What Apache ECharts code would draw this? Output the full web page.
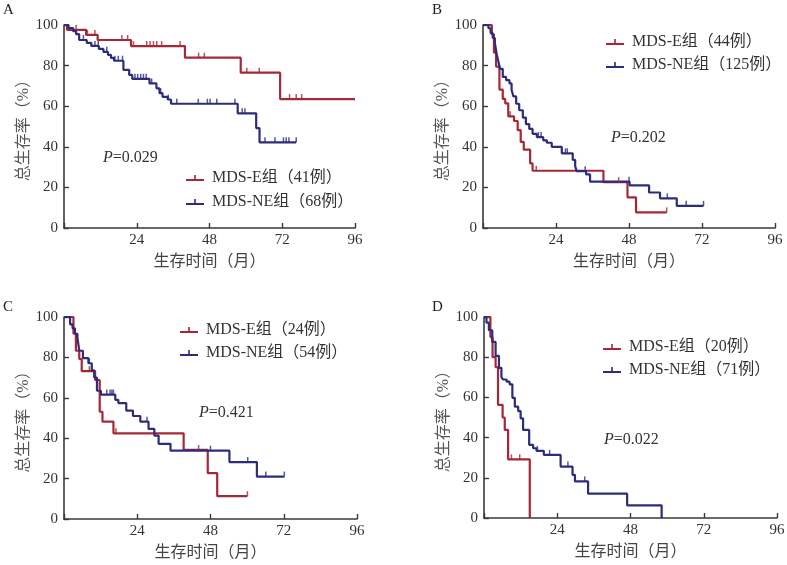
<!DOCTYPE html>
<html>
<head>
<meta charset="utf-8">
<script src="https://cdn.jsdelivr.net/npm/echarts@6/dist/echarts.min.js"></script>
<style>html,body{margin:0;padding:0;background:#fff}#c{width:787px;height:565px}</style>
</head>
<body>
<div id="c"></div>
<script>
// ---------- data ----------
const panelLabels = ['A', 'B', 'C', 'D'];
const pValues = ['0.029', '0.202', '0.421', '0.022'];
const xTicks = [0, 24, 48, 72, 96];
const yTicks = [0, 20, 40, 60, 80, 100];
const xAxisName = '生存时间（月）';
const yAxisName = '总生存率（%）';
const eNames = ['MDS-E组（41例）', 'MDS-E组（44例）', 'MDS-E组（24例）', 'MDS-E组（20例）'];
const neNames = ['MDS-NE组（68例）', 'MDS-NE组（125例）', 'MDS-NE组（54例）', 'MDS-NE组（71例）'];

// Kaplan-Meier steps: [month, survival %]
const aE = [[0,100],[1,97.6],[7.3,95.1],[11.1,92.6],[22.1,89.6],[39.9,83.9],[58.3,76.5],[71.3,63.5],[96,63.5]];
const aECens = [[4,97.6],[7.7,95.1],[10.2,95.1],[19.1,92.6],[21,92.6],[22.9,89.6],[27.3,89.6],[28.4,89.6],[29.5,89.6],[30.6,89.6],[32.2,89.6],[38.3,89.6],[44.4,83.9],[46.3,83.9],[60.3,76.5],[64.4,76.5],[74.4,63.5],[76.6,63.5],[78.4,63.5]];
const aNE = [[0,100],[1.5,98.5],[3,97],[4,95.5],[5,92.6],[7.5,91.2],[9,89.7],[11.5,88.2],[13,86.8],[14.5,85.3],[15.5,83.8],[16.5,82.4],[19.6,77.9],[21.5,75.4],[22.5,73.5],[28.2,71.2],[30.5,68.8],[31.5,66.4],[32.5,64.6],[34.2,63.3],[35.3,61.2],[57.3,56.5],[63.4,49.2],[64.5,42.2],[76.6,42.2]];
const aNECens = [[6.4,92.6],[10.2,89.7],[11.3,89.7],[14.1,86.8],[16.8,82.4],[17.9,82.4],[19.3,82.4],[23.4,73.5],[24.3,73.5],[25.3,73.5],[26.2,73.5],[27.1,73.5],[28.9,71.2],[31.9,66.4],[34.4,63.3],[37.2,61.2],[44.3,61.2],[47.3,61.2],[48.2,61.2],[50.4,61.2],[56.4,61.2],[58.8,56.5],[59.7,56.5],[66.3,42.2],[69.6,42.2],[72.4,42.2],[73.3,42.2],[74.2,42.2],[76.6,42.2]];

const bE = [[0,100],[2.9,95.5],[3.6,86.4],[4.3,79.5],[5.4,68.2],[6.5,63.6],[7.3,61.4],[8.3,55],[10.2,52.7],[11.4,48.2],[12.4,42.4],[13.4,38.6],[15.5,31.8],[16.3,28.2],[39.6,22.6],[47.5,15.1],[50.3,7.7],[60.4,7.7]];
const bECens = [[8.9,55],[17.5,28.2],[44.6,22.6],[60.4,7.7]];
const bNE = [[0,100],[1.8,98.4],[2.5,96],[3.2,93.6],[3.9,91.2],[4.5,85.6],[5,82.4],[5.6,78.4],[6.5,74.4],[7.6,72.8],[8.7,71.2],[9.4,68],[10,64.8],[10.9,61.2],[11.9,58],[13.1,54.4],[14.1,51.2],[15.2,48.8],[16.3,46.4],[17.7,44.8],[19.8,43.2],[21,42],[22.6,40],[25.9,36.8],[29.5,33.6],[30.3,30.4],[30.8,28],[33.9,26.4],[35.2,22.8],[48.2,21],[54.6,17.5],[58.2,14.6],[63.7,10.9],[72.5,10.9]];
const bNECens = [[18.2,44.8],[19.1,44.8],[27.1,36.8],[27.7,36.8],[33.6,28],[48,22.8],[60.6,14.6],[66.8,10.9],[72.5,10.9]];

const cE = [[0,100],[3.1,91.7],[3.9,83.3],[5,79.2],[5.8,73.2],[10.2,68.8],[11.7,53.1],[12.6,48.2],[16.2,42.4],[39.2,34.2],[47.1,22.7],[50.2,11.3],[60.1,11.3]];
const cECens = [[8.3,73.2],[17,42.4],[44.1,34.2],[60.1,11.3]];
const cNE = [[0,100],[2,96.3],[2.8,94.4],[3.6,91.7],[4.4,89.8],[5,83.3],[6.2,79.6],[8,77.1],[9.1,73.6],[9.9,70],[10.8,63.5],[12.1,61.6],[16.8,59],[17.8,57.4],[20.4,53.7],[22.6,51],[25,48.2],[27.7,44.6],[29.6,41.3],[31,37.2],[34.9,33.8],[54.2,28.2],[63.2,21],[72.2,21]];
const cNECens = [[8.3,77.1],[14,61.6],[15.1,61.6],[15.7,61.6],[16.2,61.6],[27.2,48.2],[48,33.8],[60.2,28.2],[66.1,21],[72.2,21]];

const dE = [[0,100],[2.1,90],[2.8,80],[3.8,75],[4.6,56.3],[6.1,50],[6.8,43.8],[7.9,29.2],[15,0]];
const dECens = [[9,29.2],[11.7,29.2]];
const dNE = [[0,100],[0.8,97.2],[1.6,93.4],[2.7,87.6],[3.8,80.7],[4.9,74.7],[5.7,70.2],[6.2,68.9],[7.4,67.8],[8.4,66.5],[9.3,59.8],[10.1,55.4],[11.2,53.2],[12,49.6],[12.8,43.8],[14.8,36.4],[16.1,34.7],[17.2,33.4],[19.6,31.4],[25.1,25.6],[29,21.5],[29.8,18.2],[34.1,12.1],[46.9,6.3],[58.2,0]];
const dNECens = [[17.5,33.4],[21.5,31.4],[27.5,25.6],[33,18.2]];

const eCurves = [aE, bE, cE, dE];
const eCens = [aECens, bECens, cECens, dECens];
const neCurves = [aNE, bNE, cNE, dNE];
const neCens = [aNECens, bNECens, cNECens, dNECens];

// ---------- layout / style ----------
const RED = '#A52836', BLUE = '#2D2C7C';
const SERIF = "'Liberation Serif','Noto Sans CJK SC',serif";
const grids = [
  {left: 64, right: 432, top: 25, bottom: 337},
  {left: 483, right: 12, top: 25, bottom: 337},
  {left: 64, right: 430, top: 317, bottom: 46},
  {left: 484, right: 10, top: 317, bottom: 47}
];
const letterPos = [[3, 3], [432, 3], [3, 300], [432, 300]];
const pPos = [[103, 150], [611, 130], [199, 405], [604, 432]];
const legendPos = [[186, 170, 8], [606, 34, 7], [180, 322, 7], [603, 339, 7]];
const legendIcon = 'path://M0,4L18,4L18,6L0,6Z M8.2,0L9.8,0L9.8,5L8.2,5Z';

const option = {
  backgroundColor: '#fff',
  animation: false,
  grid: grids.map(g => Object.assign({outerBoundsMode: 'none', containLabel: false}, g)),
  title: [],
  legend: [],
  xAxis: [],
  yAxis: [],
  series: []
};

for (let i = 0; i < 4; i++) {
  option.title.push({
    text: panelLabels[i], left: letterPos[i][0], top: letterPos[i][1], padding: 0,
    textStyle: {fontFamily: SERIF, fontSize: 15, fontWeight: 'normal', color: '#222'}
  });
  option.title.push({
    text: '{i|P}=' + pValues[i], left: pPos[i][0], top: pPos[i][1], padding: 0,
    textStyle: {fontFamily: SERIF, fontSize: 16, fontWeight: 'normal', color: '#333',
      rich: {i: {fontFamily: SERIF, fontSize: 16, fontStyle: 'italic', color: '#333'}}}
  });
  option.legend.push({
    orient: 'vertical', left: legendPos[i][0], top: legendPos[i][1], itemGap: legendPos[i][2],
    padding: 0, itemWidth: 18, itemHeight: 6,
    data: [{name: eNames[i], icon: legendIcon}, {name: neNames[i], icon: legendIcon}],
    textStyle: {fontFamily: SERIF, fontSize: 16, color: '#333', padding: [0, 0, 0, 3]}
  });
  option.xAxis.push({
    type: 'value', gridIndex: i, min: xTicks[0], max: xTicks[xTicks.length - 1], interval: 24,
    name: xAxisName, nameLocation: 'middle', nameGap: 26,
    nameTextStyle: {fontFamily: SERIF, fontSize: 16, color: '#444'},
    axisLine: {show: true, onZero: false, lineStyle: {color: '#3a3a3a', width: 1.6}},
    axisTick: {show: true, inside: true, length: 5, lineStyle: {color: '#3a3a3a', width: 1.4}},
    axisLabel: {fontFamily: SERIF, fontSize: 15, color: '#333', margin: 5,
      formatter: v => (v === 0 ? '' : String(v))},
    splitLine: {show: false}
  });
  option.yAxis.push({
    type: 'value', gridIndex: i, min: yTicks[0], max: yTicks[yTicks.length - 1], interval: 20,
    name: yAxisName, nameLocation: 'middle', nameGap: 30, nameRotate: 90,
    nameTextStyle: {fontFamily: SERIF, fontSize: 16, color: '#555'},
    axisLine: {show: true, onZero: false, lineStyle: {color: '#3a3a3a', width: 1.6}},
    axisTick: {show: true, inside: true, length: 5, lineStyle: {color: '#3a3a3a', width: 1.4}},
    axisLabel: {fontFamily: SERIF, fontSize: 15, color: '#333', margin: 6},
    splitLine: {show: false}
  });
  [[eNames[i], eCurves[i], eCens[i], RED], [neNames[i], neCurves[i], neCens[i], BLUE]].forEach(([nm, curve, cens, col], k) => {
    option.series.push({
      type: 'line', name: nm, xAxisIndex: i, yAxisIndex: i, data: curve, step: 'end',
      showSymbol: false, symbol: 'none', color: col, itemStyle: {color: col},
      lineStyle: {color: col, width: 2.2}, z: 3 + k, silent: true
    });
    option.series.push({
      type: 'scatter', name: nm + '-censored', xAxisIndex: i, yAxisIndex: i, data: cens,
      symbol: 'rect', symbolSize: [1.5, 5], symbolOffset: [0, -2.5],
      itemStyle: {color: col}, z: 5, silent: true
    });
  });
}

const chart = echarts.init(document.getElementById('c'), null, {renderer: 'canvas'});
chart.setOption(option);
</script>
</body>
</html>
